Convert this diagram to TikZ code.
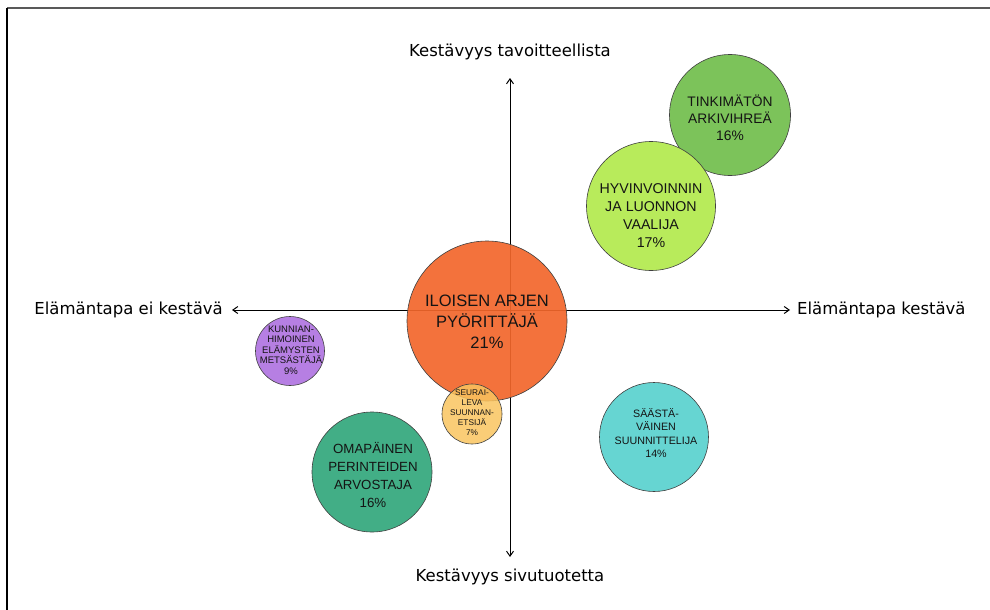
\documentclass[tikz,border=0pt]{standalone}
\usepackage{fontspec}
\setmainfont{Liberation Sans}
\newfontfamily\axisfont{DejaVu Sans}
\usetikzlibrary{arrows.meta}
\definecolor{cOrange}{HTML}{F2662B}
\definecolor{cYellow}{HTML}{F9C45F}
\definecolor{cPurple}{HTML}{B67FE3}
\definecolor{cTeal}{HTML}{42AE86}
\definecolor{cCyan}{HTML}{66D5D2}
\definecolor{cLight}{HTML}{B8EB5B}
\definecolor{cGreen}{HTML}{7CC35A}
\tikzset{
  bubble/.style={circle, draw=black!75, line width=0.6pt, inner sep=0pt},
  btext/.style={align=center, text=black!92},
  axisarrow/.style={line width=1pt, -{Straight Barb[length=5pt,width=7pt]}},
  axislabel/.style={font=\axisfont\fontsize{16.5}{19}\selectfont, text=black, inner sep=0pt},
}
\begin{document}
\begin{tikzpicture}[x=1pt,y=-1pt]
\useasboundingbox (0,0) rectangle (990,610);
% frame lines
\draw[line width=2pt, black!65] (7,8) -- (990,8);
\draw[line width=1.5pt, black] (7,8) -- (7,610);

% axis end points
\coordinate (xl) at (232,310);
\coordinate (xr) at (790,310);
\coordinate (yt) at (510,78);
\coordinate (yb) at (510,557);
\coordinate (o) at (510,310);
\draw[axisarrow] (o) -- (xl);
\draw[axisarrow] (o) -- (xr);
\draw[axisarrow] (o) -- (yt);
\draw[axisarrow] (o) -- (yb);

% axis labels
\node[axislabel, anchor=east] (lblL) at (223,310) {Elämäntapa ei kestävä};
\node[axislabel, anchor=west] (lblR) at (797,310) {Elämäntapa kestävä};
\node[axislabel] (lblT) at (510,52) {Kestävyys tavoitteellista};
\node[axislabel] (lblB) at (510,577) {Kestävyys sivutuotetta};

% bubbles
\node[bubble, fill=cOrange, fill opacity=0.92, minimum size=160pt] (b21) at (487,321) {};
\node[btext, font=\fontsize{16.5}{21}\selectfont] (t21) at (487,322) {ILOISEN ARJEN\\PYÖRITTÄJÄ\\21\%};

\node[bubble, fill=cYellow, fill opacity=0.85, minimum size=60pt] (b7) at (472,414) {};
\node[btext, font=\fontsize{8.3}{10}\selectfont] (t7) at (472,413) {SEURAI-\\LEVA\\SUUNNAN-\\ETSIJÄ\\7\%};

\node[bubble, fill=cPurple, minimum size=69pt] (b9) at (290,351) {};
\node[btext, font=\fontsize{9.5}{10.5}\selectfont] (t9) at (291,350) {KUNNIAN-\\HIMOINEN\\ELÄMYSTEN\\METSÄSTÄJÄ\\9\%};

\node[bubble, fill=cTeal, minimum size=120pt] (b16a) at (372,472) {};
\node[btext, font=\fontsize{13.3}{18}\selectfont] (t16a) at (373,475) {OMAPÄINEN\\PERINTEIDEN\\ARVOSTAJA\\16\%};

\node[bubble, fill=cCyan, minimum size=109pt] (b14) at (654,437) {};
\node[btext, font=\fontsize{10.7}{13.5}\selectfont] (t14) at (656,433) {SÄÄSTÄ-\\VÄINEN\\SUUNNITTELIJA\\14\%};

\node[bubble, fill=cGreen, minimum size=121pt] (b16b) at (730,115) {};
\node[btext, font=\fontsize{13.8}{17}\selectfont] (t16b) at (730,118) {TINKIMÄTÖN\\ARKIVIHREÄ\\16\%};

\node[bubble, fill=cLight, minimum size=129pt] (b17) at (651,206) {};
\node[btext, font=\fontsize{14.2}{18}\selectfont] (t17) at (651,216) {HYVINVOINNIN\\JA LUONNON\\VAALIJA\\17\%};
\end{tikzpicture}
\end{document}
